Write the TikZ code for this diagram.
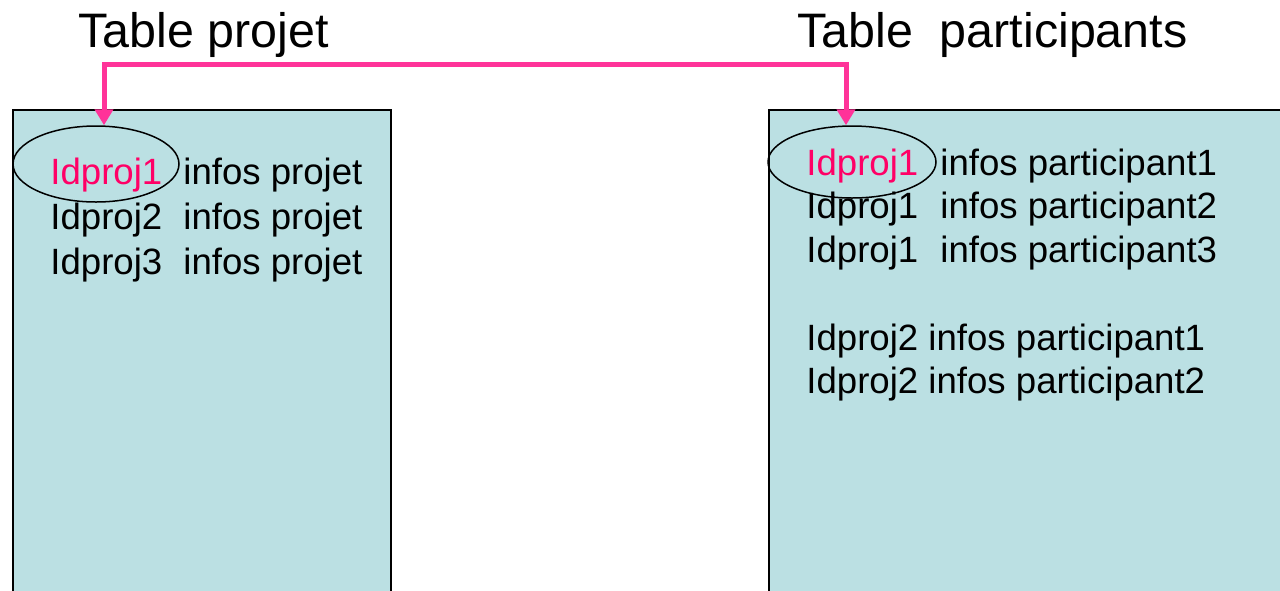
\documentclass[tikz,border=0pt]{standalone}
\usepackage{fontspec}
\setmainfont{Liberation Sans}
\usetikzlibrary{arrows.meta, shapes.geometric}
\definecolor{tablefill}{RGB}{187,224,227}
\definecolor{linkpink}{RGB}{255,51,153}
\definecolor{keypink}{RGB}{255,0,102}

\begin{document}
\begin{tikzpicture}[x=0.5pt, y=-0.5pt,
  tablebox/.style={draw=black, line width=0.75pt, fill=tablefill},
  row/.style={anchor=base west, inner sep=0pt, font=\fontsize{18.3}{22}\selectfont},
  title/.style={anchor=base west, inner sep=0pt, font=\fontsize{24.2}{28}\selectfont},
  keyring/.style={ellipse, draw=black, line width=0.75pt, inner sep=0pt},
  link/.style={linkpink, line width=2.5pt, {Triangle[width=9pt, length=8pt]}-{Triangle[width=9pt, length=8pt]}}]
  \useasboundingbox (0,0) rectangle (1280,590);
  \clip (0,0) rectangle (1280,590);
  \draw[tablebox] (13,110) rectangle (391,610);
  \draw[tablebox] (769,110) rectangle (1300,610);
  \node[title] (projtitle) at (78,47) {Table projet};
  \node[title] (parttitle) at (797,47) {Table\ \ participants};
  \foreach \n/\y/\c in {1/184/keypink, 2/229/black, 3/274/black} {
    \node[row, text=\c] (projid\n) at (50,\y) {Idproj\n};
    \node[row] (projinfo\n) at (183,\y) {infos projet};
  }
  \foreach \n/\y/\c in {1/175/keypink, 2/218/black, 3/262/black} {
    \node[row, text=\c] (partid\n) at (806,\y) {Idproj1};
    \node[row] (partinfo\n) at (940,\y) {infos participant\n};
  }
  \foreach \n/\y in {1/350, 2/393} {
    \node[row] (partnext\n) at (806,\y) {Idproj2 infos participant\n};
  }
  \node[keyring, minimum width=83pt, minimum height=38pt] (projkey) at (96,164) {};
  \node[keyring, minimum width=84pt, minimum height=36pt] (partkey) at (852,162) {};
  \coordinate (linktop) at (475,64);
  \draw[link] ([xshift=4pt]projkey.north) |- (linktop) -| ([xshift=-3pt]partkey.north);
\end{tikzpicture}
\end{document}
